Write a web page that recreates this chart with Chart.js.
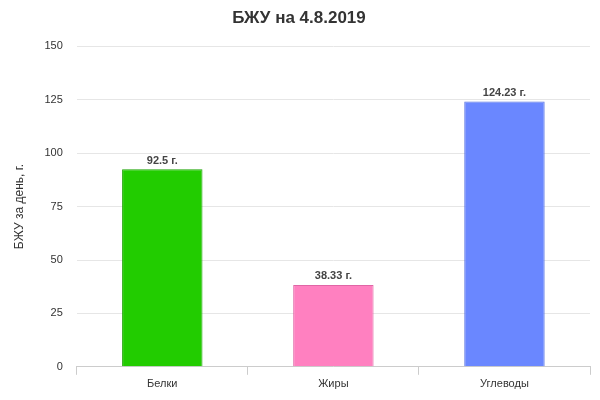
<!DOCTYPE html>
<html><head><meta charset="utf-8">
<script src="https://cdn.jsdelivr.net/npm/chart.js@4"></script>
<style>html,body{margin:0;padding:0;background:#fff}#w{width:600px;height:400px}</style>
</head><body><div id="w"><canvas id="c"></canvas></div>
<script>
const categories = ["Белки", "Жиры", "Углеводы"];
const values = [92.5, 38.33, 124.23];
const labels = ["92.5 г.", "38.33 г.", "124.23 г."];
const colors = ["#22cc00", "#ff80c0", "#6a87ff"];
const borders = ["#1aa300", "#e066a6", "#5570e0"];
const yTicks = [0, 25, 50, 75, 100, 125, 150];

const dataLabels = {
  id: 'dl',
  afterDatasetsDraw(chart) {
    const ctx = chart.ctx;
    const meta = chart.getDatasetMeta(0);
    ctx.save();
    ctx.font = 'bold 11px Arial, "Liberation Sans"';
    ctx.fillStyle = '#444';
    ctx.textAlign = 'center';
    ctx.textBaseline = 'bottom';
    meta.data.forEach((b, i) => ctx.fillText(labels[i], b.x, b.y - 3));
    ctx.restore();
  }
};

new Chart(document.getElementById('c'), {
  type: 'bar',
  data: { labels: categories, datasets: [{ data: values, backgroundColor: colors, borderColor: borders, borderWidth: 1, categoryPercentage: 1, barPercentage: 0.47 }] },
  plugins: [dataLabels],
  options: {
    responsive: true, maintainAspectRatio: false, animation: false,
    layout: { padding: { left: 8, right: 10, top: 0, bottom: 6 } },
    plugins: {
      legend: { display: false }, tooltip: { enabled: false },
      title: { display: true, text: 'БЖУ на 4.8.2019', color: '#333', font: { size: 17, weight: 'bold', family: 'Arial, "Liberation Sans"' }, padding: { top: 8, bottom: 18 } }
    },
    scales: {
      x: {
        grid: { display: true, offset: true, drawOnChartArea: false, color: '#ccc', tickLength: 8 },
        border: { color: '#ccc' },
        ticks: { color: '#333', font: { size: 11, family: 'Arial, "Liberation Sans"' } }
      },
      y: {
        min: 0, max: 150,
        afterBuildTicks: (s) => { s.ticks = yTicks.map(v => ({ value: v })); },
        grid: { color: '#e6e6e6', drawTicks: false },
        border: { display: false },
        ticks: { color: '#333', padding: 14, font: { size: 11, family: 'Arial, "Liberation Sans"' } },
        title: { display: true, text: 'БЖУ за день, г.', color: '#333', font: { size: 12, family: 'Arial, "Liberation Sans"' } }
      }
    }
  }
});
</script></body></html>
